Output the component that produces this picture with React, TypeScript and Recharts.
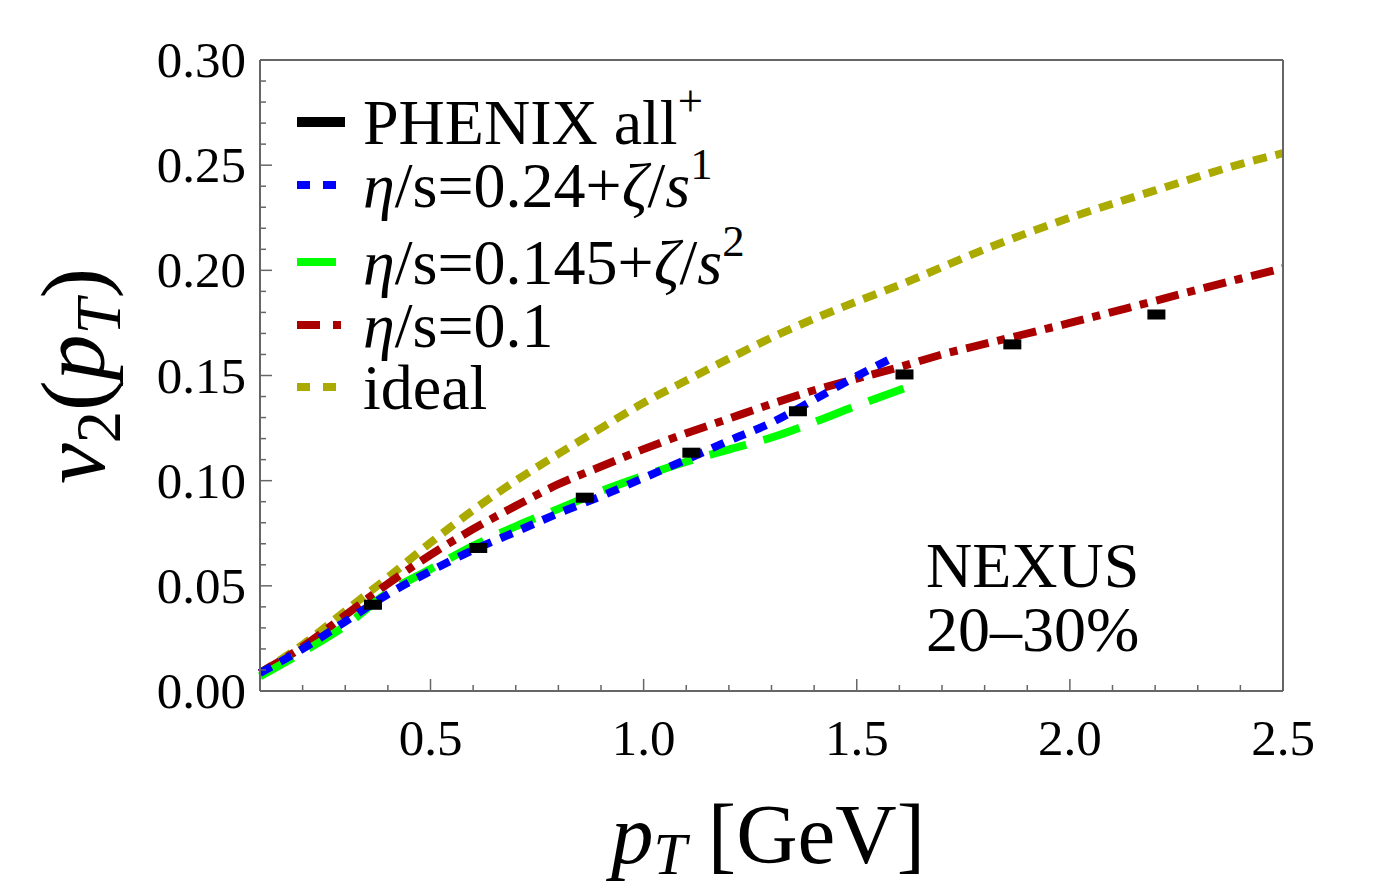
import React from 'react'
import {
  ComposedChart, Line, Scatter, XAxis, YAxis, Legend,
} from 'recharts'

// axis ticks
const xTicks = [0.1, 0.2, 0.3, 0.4, 0.5, 0.6, 0.7, 0.8, 0.9, 1.0, 1.1, 1.2, 1.3, 1.4, 1.5, 1.6, 1.7, 1.8, 1.9, 2.0, 2.1, 2.2, 2.3, 2.4, 2.5]
const xMajor = [0.5, 1.0, 1.5, 2.0, 2.5]
const yTicks = [0, 0.01, 0.02, 0.03, 0.04, 0.05, 0.06, 0.07, 0.08, 0.09, 0.1, 0.11, 0.12, 0.13, 0.14, 0.15, 0.16, 0.17, 0.18, 0.19, 0.2, 0.21, 0.22, 0.23, 0.24, 0.25, 0.26, 0.27, 0.28, 0.29, 0.3]
const yMajor = [0, 0.05, 0.1, 0.15, 0.2, 0.25, 0.3]

// PHENIX all+ data
const phenixPt = [0.365, 0.612, 0.862, 1.112, 1.362, 1.612, 1.865, 2.203]
const phenixV2 = [0.041, 0.068, 0.0919, 0.1133, 0.133, 0.1505, 0.1648, 0.179]

// ideal hydro
const idealPt = [0.1, 0.2, 0.3, 0.4, 0.5, 0.6, 0.7, 0.8, 0.9, 1.0, 1.1, 1.2, 1.3, 1.4, 1.5, 1.6, 1.8, 2.0, 2.2, 2.4, 2.5]
const idealV2 = [0.0086, 0.022, 0.038, 0.054, 0.0705, 0.086, 0.1, 0.1127, 0.125, 0.137, 0.1476, 0.158, 0.168, 0.177, 0.1852, 0.193, 0.21, 0.225, 0.238, 0.2505, 0.2557]

// eta/s = 0.1
const visc01Pt = [0.1, 0.2, 0.3, 0.4, 0.5, 0.6, 0.7, 0.8, 0.9, 1.0, 1.1, 1.2, 1.3, 1.4, 1.5, 1.6, 1.7, 1.8, 2.0, 2.2, 2.4, 2.5]
const visc01V2 = [0.0086, 0.021, 0.036, 0.051, 0.0647, 0.077, 0.088, 0.0983, 0.1067, 0.115, 0.1225, 0.1295, 0.1365, 0.143, 0.1485, 0.154, 0.16, 0.165, 0.175, 0.1855, 0.196, 0.201]

// eta/s = 0.24 + zeta/s 1
const bulk1Pt = [0.1, 0.2, 0.3, 0.4, 0.5, 0.6, 0.7, 0.8, 0.9, 1.0, 1.1, 1.2, 1.3, 1.4, 1.5, 1.58]
const bulk1V2 = [0.0086, 0.02, 0.033, 0.046, 0.057, 0.067, 0.0757, 0.0845, 0.0926, 0.1013, 0.11, 0.119, 0.1276, 0.1385, 0.1497, 0.158]

// eta/s = 0.145 + zeta/s 2
const bulk2Pt = [0.1, 0.2, 0.3, 0.4, 0.5, 0.6, 0.7, 0.8, 0.9, 1.0, 1.1, 1.2, 1.3, 1.4, 1.5, 1.61]
const bulk2V2 = [0.007, 0.0185, 0.031, 0.0468, 0.058, 0.069, 0.0783, 0.0866, 0.095, 0.1023, 0.109, 0.1148, 0.1205, 0.1278, 0.1357, 0.1438]

const zip = (xs: number[], ys: number[]) => xs.map((x, i) => ({ x, y: ys[i] }))

const FONT = "'Liberation Serif', 'Times New Roman', serif"
const FRAME = '#666'
const W = 1397
const H = 891

const isMajor = (v: number, list: number[]) => list.some(m => Math.abs(m - v) < 1e-6)

const BottomTick = (props: any) => {
  const { x, y, payload } = props
  const major = isMajor(payload.value, xMajor)
  return (
    <g>
      <line x1={x} x2={x} y1={y} y2={y - (major ? 12 : 6)} stroke={FRAME} strokeWidth={1.5} />
      {major && (
        <text x={x} y={y + 64} textAnchor="middle" fontSize={51} fontFamily={FONT} fill="#000">
          {payload.value.toFixed(1)}
        </text>
      )}
    </g>
  )
}

const TopTick = (props: any) => {
  const { x, y, payload } = props
  const major = isMajor(payload.value, xMajor)
  return <line x1={x} x2={x} y1={y} y2={y + (major ? 12 : 6)} stroke={FRAME} strokeWidth={1.5} />
}

const LeftTick = (props: any) => {
  const { x, y, payload } = props
  const major = isMajor(payload.value, yMajor)
  return (
    <g>
      <line x1={x} x2={x + (major ? 12 : 6)} y1={y} y2={y} stroke={FRAME} strokeWidth={1.5} />
      {major && (
        <text x={x - 14} y={y + 17} textAnchor="end" fontSize={51} fontFamily={FONT} fill="#000">
          {payload.value.toFixed(2)}
        </text>
      )}
    </g>
  )
}

const RightTick = (props: any) => {
  const { x, y, payload } = props
  const major = isMajor(payload.value, yMajor)
  return <line x1={x} x2={x - (major ? 12 : 6)} y1={y} y2={y} stroke={FRAME} strokeWidth={1.5} />
}

const DataMark = (props: any) => {
  const { cx, cy } = props
  return <rect x={cx - 9} y={cy - 5} width={18} height={10} fill="#000" />
}

const Sup = ({ children }: { children: React.ReactNode }) => (
  <span style={{ fontSize: '0.7em', position: 'relative', top: '-0.62em', lineHeight: 0 }}>{children}</span>
)

const Sub = ({ children, shift = 0.25 }: { children: React.ReactNode, shift?: number }) => (
  <span style={{ fontSize: '0.7em', position: 'relative', top: `${shift}em`, lineHeight: 0 }}>{children}</span>
)

const legendItems = [
  { color: '#000000', dash: undefined, sw: 10, len: 48, label: <>PHENIX all<Sup>+</Sup></> },
  { color: '#0000ff', dash: '13 13', sw: 8, len: 39, label: <><i>η</i>/s=0.24+<i>ζ</i>/<i>s</i><Sup>1</Sup></> },
  { color: '#00ff00', dash: undefined, sw: 8, len: 39, label: <><i>η</i>/s=0.145+<i>ζ</i>/<i>s</i><Sup>2</Sup></> },
  { color: '#aa0000', dash: '23 13 8 20', sw: 8, len: 44, label: <><i>η</i>/s=0.1</> },
  { color: '#aaaa00', dash: '13 13', sw: 8, len: 39, label: <>ideal</> },
]
const legendBaselines = [145, 208, 285, 348, 410]

const LegendBox = () => (
  <div style={{ position: 'relative', width: W, height: H, fontFamily: FONT, color: '#000' }}>
    {legendItems.map((it, i) => (
      <React.Fragment key={i}>
        <svg style={{ position: 'absolute', left: 297, top: legendBaselines[i] - 23 - 8 }} width={50} height={16}>
          <line x1={0} x2={it.len} y1={8} y2={8} stroke={it.color} strokeWidth={it.sw} strokeDasharray={it.dash} />
        </svg>
        <div style={{ position: 'absolute', left: 363, top: legendBaselines[i] - 47, fontSize: 64, lineHeight: '50px', whiteSpace: 'nowrap' }}>
          {it.label}
        </div>
      </React.Fragment>
    ))}
  </div>
)

export default function App() {
  return (
    <div style={{ position: 'absolute', left: 0, top: 0, width: W, height: H, background: '#fff', fontFamily: FONT }}>
      <ComposedChart width={W} height={H} margin={{ top: 59, right: 113, bottom: 199, left: 259 }}>
        <XAxis
          type="number" dataKey="x" domain={[0.1, 2.5]} ticks={xTicks} interval={0}
          height={1} tickSize={0} tickMargin={0} tick={BottomTick}
          axisLine={{ stroke: FRAME, strokeWidth: 2 }}
        />
        <XAxis
          xAxisId="top" orientation="top" type="number" domain={[0.1, 2.5]} ticks={xTicks} interval={0}
          height={1} tickSize={0} tickMargin={0} tick={TopTick}
          axisLine={{ stroke: FRAME, strokeWidth: 2 }}
        />
        <YAxis
          type="number" dataKey="y" domain={[0, 0.3]} ticks={yTicks} interval={0}
          width={1} tickSize={0} tickMargin={0} tick={LeftTick}
          axisLine={{ stroke: FRAME, strokeWidth: 2 }}
        />
        <YAxis
          yAxisId="right" orientation="right" type="number" domain={[0, 0.3]} ticks={yTicks} interval={0}
          width={1} tickSize={0} tickMargin={0} tick={RightTick}
          axisLine={{ stroke: FRAME, strokeWidth: 2 }}
        />
        <Legend
          layout="vertical" align="center" verticalAlign="middle"
          wrapperStyle={{ left: 0, top: 0, width: W, height: H, pointerEvents: 'none' }}
          content={() => <LegendBox />}
        />
        <Line data={zip(idealPt, idealV2)} dataKey="y" name="ideal" type="monotone" stroke="#aaaa00" strokeWidth={8} strokeDasharray="14 9" dot={false} isAnimationActive={false} />
        <Line data={zip(visc01Pt, visc01V2)} dataKey="y" name="η/s=0.1" type="monotone" stroke="#aa0000" strokeWidth={8} strokeDasharray="23 9 8 9" dot={false} isAnimationActive={false} />
        <Line data={zip(bulk2Pt, bulk2V2)} dataKey="y" name="η/s=0.145+ζ/s2" type="monotone" stroke="#00ff00" strokeWidth={8} strokeDasharray="38 18" dot={false} isAnimationActive={false} />
        <Line data={zip(bulk1Pt, bulk1V2)} dataKey="y" name="η/s=0.24+ζ/s1" type="monotone" stroke="#0000ff" strokeWidth={8} strokeDasharray="13 10" dot={false} isAnimationActive={false} />
        <Scatter data={zip(phenixPt, phenixV2)} dataKey="y" name="PHENIX all+" shape={DataMark} isAnimationActive={false} />
      </ComposedChart>

      <div style={{ position: 'absolute', left: 768, top: 588 - 54, fontSize: 64, lineHeight: '64px', whiteSpace: 'nowrap', marginLeft: 158 }}>
        NEXUS<br />20–30%
      </div>

      <div style={{ position: 'absolute', left: 768, top: 804, transform: 'translateX(-50%)', fontSize: 85, lineHeight: '60px', whiteSpace: 'nowrap' }}>
        <i>p</i><Sub shift={0.18}><i>T</i></Sub> [GeV]
      </div>

      <div style={{ position: 'absolute', left: 73, top: 376, transform: 'translate(-50%, -50%) rotate(-90deg)', fontSize: 92, lineHeight: '92px', whiteSpace: 'nowrap' }}>
        <i>v</i><Sub>2</Sub>(<i>p</i><Sub><i>T</i></Sub>)
      </div>
    </div>
  )
}
